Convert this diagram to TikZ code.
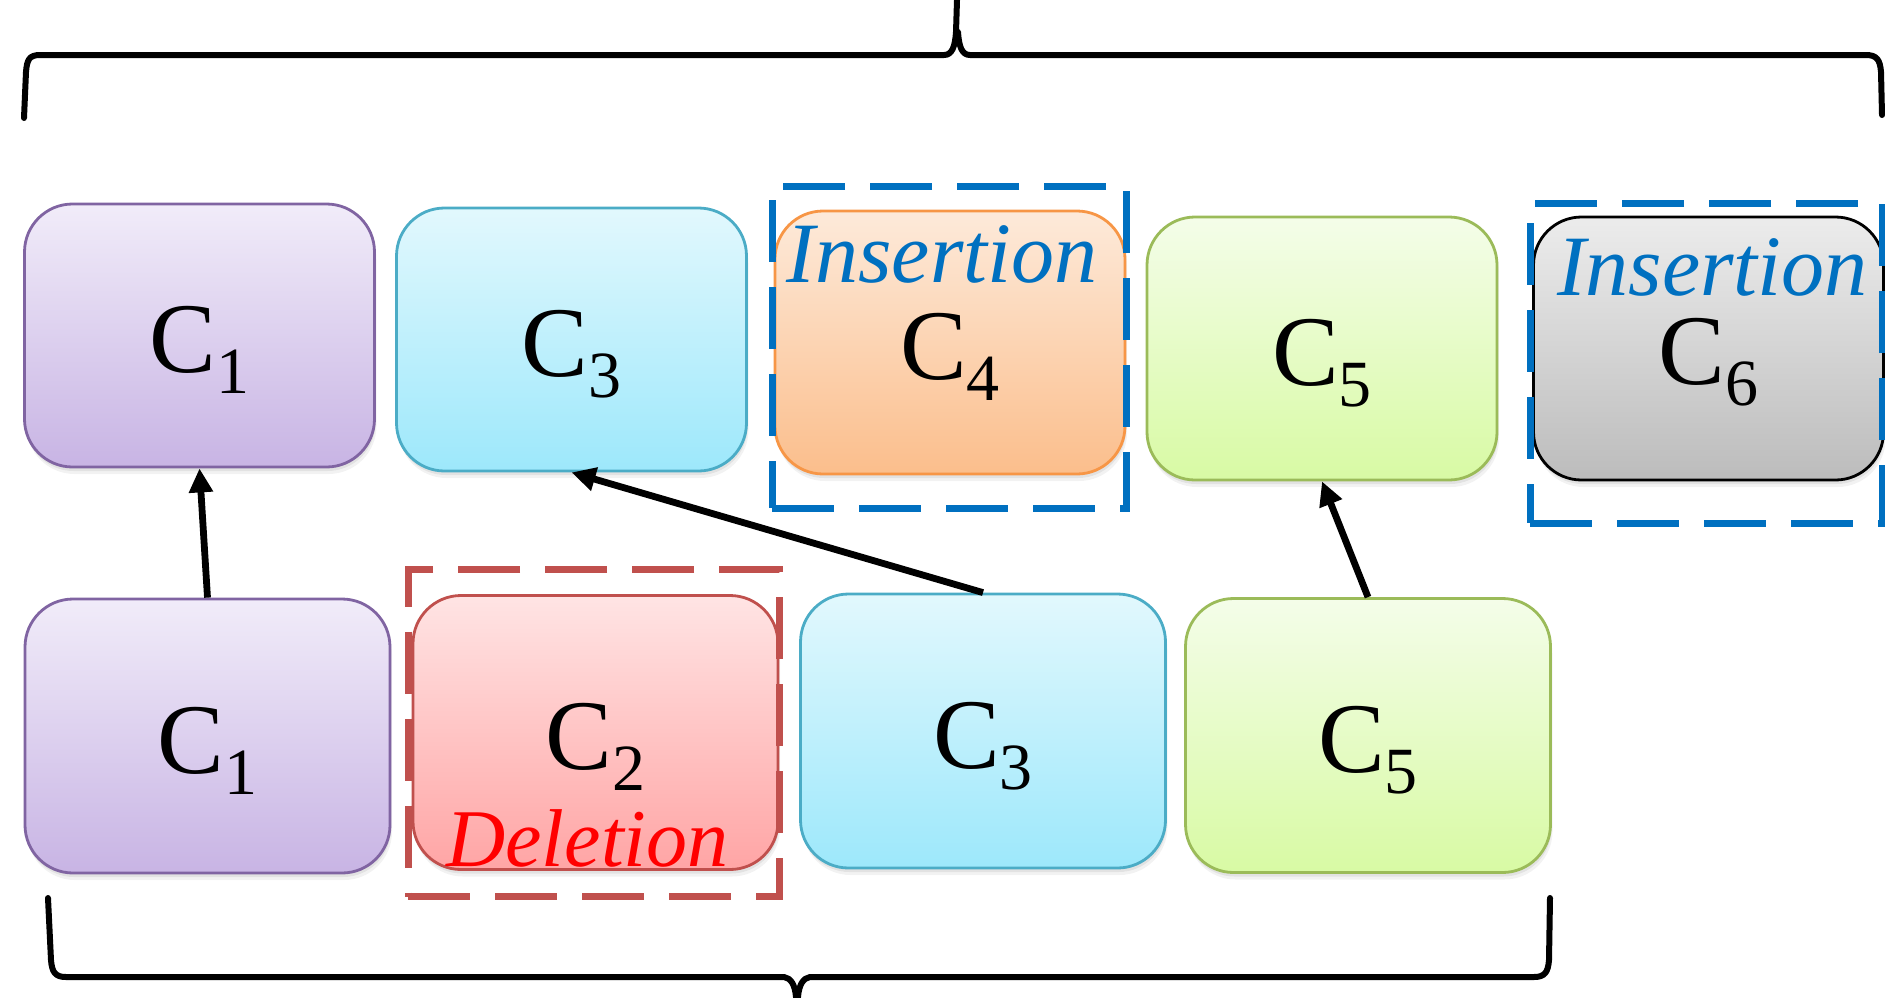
\documentclass[tikz,border=0pt]{standalone}
\usepackage{fontspec}
\setmainfont{Liberation Serif}
\usetikzlibrary{arrows.meta,shadows}

% box palette
\definecolor{purpleTop}{RGB}{241,236,249}
\definecolor{purpleBot}{RGB}{200,180,228}
\definecolor{purpleLine}{RGB}{128,100,162}
\definecolor{cyanTop}{RGB}{226,248,253}
\definecolor{cyanBot}{RGB}{157,232,251}
\definecolor{cyanLine}{RGB}{75,172,198}
\definecolor{orangeTop}{RGB}{253,234,218}
\definecolor{orangeBot}{RGB}{251,190,140}
\definecolor{orangeLine}{RGB}{247,150,70}
\definecolor{greenTop}{RGB}{244,253,233}
\definecolor{greenBot}{RGB}{216,250,164}
\definecolor{greenLine}{RGB}{155,187,89}
\definecolor{grayTop}{RGB}{236,236,236}
\definecolor{grayBot}{RGB}{188,188,188}
\definecolor{redTop}{RGB}{255,228,228}
\definecolor{redBot}{RGB}{255,165,165}
\definecolor{redLine}{RGB}{192,80,77}
\definecolor{insBlue}{RGB}{0,112,192}
\definecolor{delRed}{RGB}{255,0,0}

% C with a lowered index
\newcommand{\Csub}[1]{C\raisebox{-10.5pt}{\fontsize{33}{33}\selectfont #1}}

\tikzset{
  cbox/.style={rectangle, rounded corners=24pt, line width=1.4pt, inner sep=0pt,
    drop shadow={shadow xshift=0.5pt, shadow yshift=-2pt, opacity=0.14},
    drop shadow={shadow xshift=1pt, shadow yshift=-3.5pt, opacity=0.10}},
  topbox/.style={cbox, minimum width=175pt, minimum height=131.5pt},
  botbox/.style={cbox, minimum width=182.5pt, minimum height=137pt},
  purplebox/.style={draw=purpleLine, top color=purpleTop, bottom color=purpleBot},
  cyanbox/.style={draw=cyanLine, top color=cyanTop, bottom color=cyanBot},
  orangebox/.style={draw=orangeLine, top color=orangeTop, bottom color=orangeBot},
  greenbox/.style={draw=greenLine, top color=greenTop, bottom color=greenBot},
  graybox/.style={draw=black, top color=grayTop, bottom color=grayBot},
  redbox/.style={draw=redLine, top color=redTop, bottom color=redBot},
  ctext/.style={font=\fontsize{50}{50}\selectfont, anchor=base, inner sep=0pt},
  instext/.style={font=\fontsize{43}{43}\selectfont\itshape, text=insBlue, anchor=base, inner sep=0pt},
  deltext/.style={font=\fontsize{41}{41}\selectfont\itshape, text=delRed, anchor=base, inner sep=0pt},
  dashframe/.style={rectangle, draw, line width=3.5pt, dash pattern=on 31pt off 12.5pt, inner sep=0pt},
  arr/.style={line width=3.4pt, -{Triangle[length=12pt,width=11.5pt]}},
  brace/.style={line width=3pt, line cap=round, line join=round},
}

\begin{document}
\begin{tikzpicture}[x=0.5pt, y=-0.5pt]
\useasboundingbox (0,0) rectangle (1885,997);

% upper row
\node[topbox, purplebox] (t1) at (199.5,335.5) {};
\node[topbox, cyanbox]   (t3) at (571.5,339.5) {};
\node[topbox, orangebox] (t4) at (950,342.5) {};
\node[topbox, greenbox]  (t5) at (1322,348.5) {};
\node[topbox, graybox]   (t6) at (1708.5,348.5) {};

% lower row
\node[botbox, purplebox] (b1) at (207.5,736) {};
\node[botbox, redbox]    (b2) at (595.5,732.5) {};
\node[botbox, cyanbox]   (b3) at (983,731) {};
\node[botbox, greenbox]  (b5) at (1368,735.5) {};

% labels
\node[ctext] (t1l) at ([yshift=-18.5pt]t1.center) {\Csub{1}};
\node[ctext] (t3l) at ([yshift=-18.5pt]t3.center) {\Csub{3}};
\node[ctext] (t4l) at ([yshift=-18.5pt]t4.center) {\Csub{4}};
\node[ctext] (t5l) at ([yshift=-18.5pt]t5.center) {\Csub{5}};
\node[ctext] (t6l) at ([yshift=-18pt]t6.center) {\Csub{6}};
\node[ctext] (b1l) at ([yshift=-18.5pt]b1.center) {\Csub{1}};
\node[ctext] (b2l) at ([yshift=-18.5pt]b2.center) {\Csub{2}};
\node[ctext] (b3l) at ([yshift=-18.5pt]b3.center) {\Csub{3}};
\node[ctext] (b5l) at ([yshift=-18.5pt]b5.center) {\Csub{5}};

\node[instext] (t4ins) at ([xshift=-4pt,yshift=30pt]t4.center) {Insertion};
\node[instext] (t6ins) at ([xshift=2pt,yshift=26.75pt]t6.center) {Insertion};
\node[deltext] (b2del) at ([xshift=-4pt,yshift=-66.75pt]b2.center) {Deletion};

% edit frames
\node[dashframe, draw=insBlue, minimum width=177pt, minimum height=161pt] (f4) at (949,347) {};
\node[dashframe, draw=insBlue, minimum width=176pt, minimum height=160pt] (f6) at (1706,363) {};
\node[dashframe, draw=redLine, minimum width=185.5pt, minimum height=163.5pt] (f2) at (593.5,733) {};

% alignment arrows
\draw[arr] (b1.north) -- (t1.south);
\draw[arr] (b3.north) -- (t3.south);
\draw[arr] (b5.north) -- (t5.south);

% upper brace
\draw[brace] (24,118) -- (26,72) .. controls (27,60) and (29,55) .. (40,55)
  -- (944,55) .. controls (952,55) and (955,47) .. (956,32) -- (957,0);
\draw[brace] (1882,115) -- (1881,72) .. controls (1880,60) and (1877,55) .. (1866,55)
  -- (970,55) .. controls (962,55) and (959,47) .. (958,32);

% lower brace
\draw[brace] (48,898) -- (51,960) .. controls (52,972) and (55,977) .. (66,977)
  -- (784,977) .. controls (791,978) and (795,985) .. (796,997);
\draw[brace] (1550,898) -- (1549,960) .. controls (1548,972) and (1545,977) .. (1534,977)
  -- (810,977) .. controls (803,978) and (799,985) .. (798,997);
\end{tikzpicture}
\end{document}
